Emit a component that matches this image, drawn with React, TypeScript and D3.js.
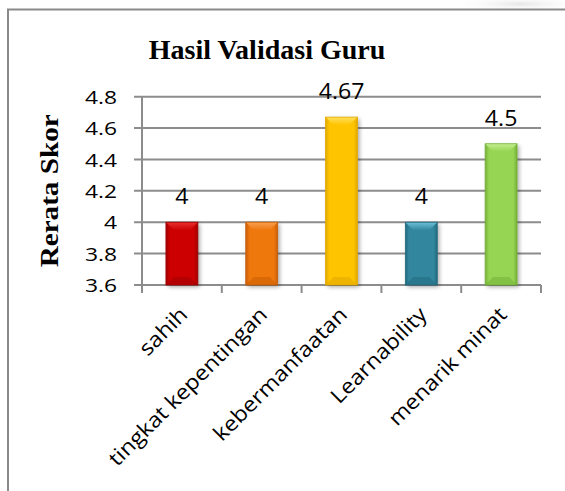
import React from "react";
import * as d3 from "d3";

const categories: string[] = ["sahih", "tingkat kepentingan", "kebermanfaatan", "Learnability", "menarik minat"];
const values: number[] = [4, 4, 4.67, 4, 4.5];
const valueLabels: string[] = ["4", "4", "4.67", "4", "4.5"];
const yTicks: number[] = [3.6, 3.8, 4, 4.2, 4.4, 4.6, 4.8];
const yTickLabels: string[] = ["3.6", "3.8", "4", "4.2", "4.4", "4.6", "4.8"];
const title = "Hasil Validasi Guru";
const yTitle = "Rerata Skor";

const barColors = [
  { base: "#cc0000", light: "#e83030", dark: "#a00000" },
  { base: "#ef780f", light: "#f8a050", dark: "#c85e05" },
  { base: "#ffc400", light: "#ffe060", dark: "#e0a800" },
  { base: "#33879f", light: "#6cc0d8", dark: "#236a7e" },
  { base: "#96d452", light: "#c4ee90", dark: "#74b038" },
];

const W = 565;
const H = 491;
const plotLeft = 142;
const plotRight = 541;
const plotTop = 96.7;
const plotBottom = 285;

export default function App() {
  const x = d3.scaleBand<string>().domain(categories).range([plotLeft, plotRight]).paddingInner(0.6).paddingOuter(0.3);
  const xOuter = d3.scaleBand<string>().domain(categories).range([plotLeft, plotRight]);
  const y = d3.scaleLinear().domain([3.6, 4.8]).range([plotBottom, plotTop]);
  const sans = "'Open Sans', 'DejaVu Sans', sans-serif";
  const serif = "'Liberation Serif', 'Times New Roman', serif";
  const gridColor = "#8c8c8c";
  const bev = 8;

  return (
    <svg width={W} height={H} style={{ position: "fixed", left: 0, top: 0, background: "#fff" }}>
      <defs>
        {barColors.map((c, i) => (
          <linearGradient key={i} id={`bg${i}`} x1="0" x2="1" y1="0" y2="0">
            <stop offset="0" stopColor={c.dark} />
            <stop offset="0.12" stopColor={c.base} />
            <stop offset="0.5" stopColor={c.base} />
            <stop offset="0.88" stopColor={c.base} />
            <stop offset="1" stopColor={c.dark} />
          </linearGradient>
        ))}
        {barColors.map((c, i) => (
          <linearGradient key={"t" + i} id={`tg${i}`} x1="0" x2="0" y1="0" y2="1">
            <stop offset="0" stopColor={c.light} />
            <stop offset="1" stopColor={c.base} />
          </linearGradient>
        ))}
        <filter id="shadow" x="-30%" y="-10%" width="160%" height="130%">
          <feGaussianBlur in="SourceAlpha" stdDeviation="2" />
          <feOffset dx="2" dy="2" result="b" />
          <feComponentTransfer>
            <feFuncA type="linear" slope="0.35" />
          </feComponentTransfer>
          <feMerge>
            <feMergeNode />
            <feMergeNode in="SourceGraphic" />
          </feMerge>
        </filter>
        <radialGradient id="swoosh" cx="0.5" cy="0.5" r="0.5">
          <stop offset="0" stopColor="#e6e6e6" />
          <stop offset="1" stopColor="#ffffff" stopOpacity="0" />
        </radialGradient>
      </defs>

      <ellipse cx={520} cy={4} rx={70} ry={8} fill="url(#swoosh)" />

      {/* outer frame */}
      <rect x={8} y={9.5} width={W + 20} height={H + 20} fill="none" stroke="#8a8a8a" strokeWidth={2} />

      {/* title */}
      <text x={267} y={59} textAnchor="middle" fontFamily={serif} fontWeight="bold" fontSize={28} fill="#000">
        {title}
      </text>

      {/* y axis title */}
      <text
        transform={`translate(58, ${(plotTop + plotBottom) / 2}) rotate(-90)`}
        textAnchor="middle"
        fontFamily={serif}
        fontWeight="bold"
        fontSize={26}
        textLength={153}
        lengthAdjust="spacingAndGlyphs"
        fill="#000"
      >
        {yTitle}
      </text>

      {/* gridlines & y ticks */}
      {yTicks.map((t, i) => (
        <g key={t}>
          <line x1={plotLeft - 8} x2={plotRight} y1={y(t)} y2={y(t)} stroke={gridColor} strokeWidth={2} />
          <text
            transform={`translate(117, ${y(t) + 2}) scale(1.2, 1)`}
            textAnchor="end"
            dominantBaseline="middle"
            fontFamily={sans}
            fontSize={19}
            fill="#000"
          >
            {yTickLabels[i]}
          </text>
        </g>
      ))}

      {/* axes */}
      <line x1={plotLeft} x2={plotLeft} y1={plotTop} y2={plotBottom + 8} stroke={gridColor} strokeWidth={2} />
      {categories.map((c) => (
        <line key={c} x1={(xOuter(c) as number) + xOuter.bandwidth()} x2={(xOuter(c) as number) + xOuter.bandwidth()} y1={plotBottom} y2={plotBottom + 8} stroke={gridColor} strokeWidth={2} />
      ))}

      {/* bars */}
      {categories.map((c, i) => {
        const x0 = x(c) as number;
        const w = x.bandwidth();
        const x1 = x0 + w;
        const y0 = y(values[i]);
        const y1 = y(3.6);
        const col = barColors[i];
        return (
          <g key={c}>
            <rect x={x0} y={y0} width={w} height={y1 - y0} fill={`url(#bg${i})`} filter="url(#shadow)" />
            <polygon points={`${x0},${y0} ${x1},${y0} ${x1 - bev},${y0 + bev} ${x0 + bev},${y0 + bev}`} fill={`url(#tg${i})`} />
            <polygon points={`${x0},${y1} ${x1},${y1} ${x1 - bev},${y1 - bev} ${x0 + bev},${y1 - bev}`} fill={col.dark} opacity={0.55} />
            <rect x={x0} y={y0} width={w} height={y1 - y0} fill="none" stroke={col.dark} strokeWidth={0.8} />
          </g>
        );
      })}

      {/* value labels */}
      {categories.map((c, i) => (
        <text
          key={c}
          transform={`translate(${(x(c) as number) + x.bandwidth() / 2}, ${y(values[i]) - 18}) scale(1.1, 1)`}
          textAnchor="middle"
          fontFamily={sans}
          fontSize={21}
          fill="#000"
        >
          {valueLabels[i]}
        </text>
      ))}

      {/* category labels */}
      {categories.map((c) => {
        const cx = (xOuter(c) as number) + xOuter.bandwidth() / 2;
        return (
          <text
            key={c}
            transform={`translate(${cx - 6}, ${303}) rotate(-45) scale(1.1, 1)`}
            textAnchor="end"
            dominantBaseline="hanging"
            fontFamily={sans}
            fontSize={21}
            fill="#000"
          >
            {c}
          </text>
        );
      })}
    </svg>
  );
}
